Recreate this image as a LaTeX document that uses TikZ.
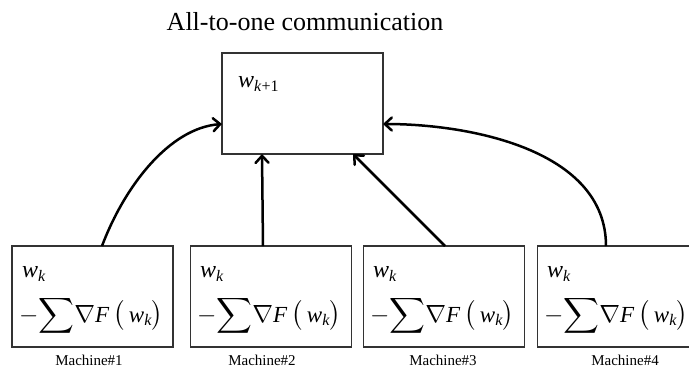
\documentclass[tikz,border=0pt]{standalone}
\usepackage{amsmath}
\usepackage{fontspec}
\setmainfont{Liberation Serif}
\usetikzlibrary{arrows.meta,calc}
\newcommand{\wsub}[1]{\textit{w}\raisebox{-0.45ex}{\fontsize{16}{16}\selectfont #1}}
\newcommand{\gradline}{$-\!\mathop{\smash{\displaystyle\sum}}\!\nabla\text{\itshape F}\,\mathopen{\smash{\bigl(}}\,\text{\itshape w}_{\text{\itshape k}}\mathclose{\smash{\bigr)}}$}
\tikzset{
  box/.style={draw=black!80,line width=1.1pt,rectangle,minimum width=161pt,minimum height=101pt,inner sep=0pt,outer sep=0pt},
  arr/.style={line width=2.5pt,-{Straight Barb[length=7pt,width=13pt,line cap=round]}},
  boxtext/.style={anchor=base west,inner sep=0pt,font=\fontsize{24}{26}\selectfont},
  gradtext/.style={anchor=base west,inner sep=0pt,font=\fontsize{23}{24}\selectfont},
  label/.style={inner sep=0pt,font=\fontsize{15}{17}\selectfont},
}
\begin{document}
\begin{tikzpicture}[x=1pt,y=-1pt]
\useasboundingbox (0,0) rectangle (689,368);
\node[inner sep=0pt,font=\fontsize{26}{30}\selectfont] (title) at (305,22) {All-to-one communication};
\node[box] (top) at (302.5,103.5) {};
\node[boxtext] (wtop) at (238,87) {\wsub{\textit{k}+1}};
\node[box] (m1) at (92.5,296.5) {};
\node[box] (m2) at (271,296.5) {};
\node[box] (m3) at (444,296.5) {};
\node[box] (m4) at (618,296.5) {};
\foreach \i/\x in {1/22,2/200,3/373,4/547}{
  \node[boxtext] (wa\i) at (\x,277) {\wsub{\textit{k}}};
  \node[gradtext] (wb\i) at (\x-3,322) {\gradline};
}
\node[label] (l1) at (89,360) {Machine\#1};
\node[label] (l2) at (262,360) {Machine\#2};
\node[label] (l3) at (443,360) {Machine\#3};
\node[label] (l4) at (625,360) {Machine\#4};
\draw[arr] ([xshift=9.5pt]m1.north) .. controls +(23,-61) and +(-52,4) .. ([yshift=-20.5pt]top.west);
\draw[arr] ([xshift=-8pt]m2.north) -- ([xshift=-40.5pt]top.south);
\draw[arr] ([xshift=1pt]m3.north) -- ([xshift=50.5pt]top.south);
\draw[arr] ([xshift=-12pt]m4.north) .. controls +(0,-96) and +(87,0) .. ([yshift=-20.5pt]top.east);
\end{tikzpicture}
\end{document}
